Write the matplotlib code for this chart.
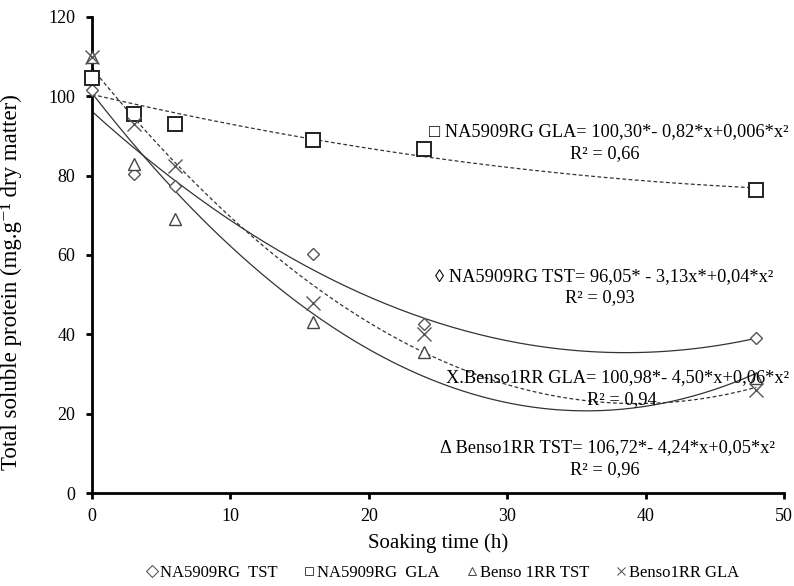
import numpy as np
import matplotlib
matplotlib.use("Agg")
import matplotlib.pyplot as plt
from matplotlib.lines import Line2D

plt.rcParams['font.family'] = ['Liberation Serif', 'DejaVu Serif']

# Soaking time (h)
hours = [0, 3, 6, 16, 24, 48]

# Total soluble protein (mg.g-1 dry matter)
na_tst = [101.5, 80.5, 77.5, 60.3, 42.5, 39.0]
na_gla = [104.5, 95.5, 93.0, 89.0, 86.8, 76.5]
benso_tst = [110.0, 83.0, 69.0, 43.0, 35.5, 29.0]
benso_gla = [110.0, 93.0, 82.5, 48.0, 40.0, 26.0]

legend_labels = ["NA5909RG  TST", "NA5909RG  GLA", "Benso 1RR TST", "Benso1RR GLA"]

equations = [
    ("\u25a1 NA5909RG GLA= 100,30*- 0,82*x+0,006*x\u00b2", "R\u00b2 = 0,66"),
    ("\u25ca NA5909RG TST= 96,05* - 3,13x*+0,04*x\u00b2", "R\u00b2 = 0,93"),
    ("X.Benso1RR GLA= 100,98*- 4,50*x+0,06*x\u00b2", "R\u00b2 = 0,94"),
    ("\u0394 Benso1RR TST= 106,72*- 4,24*x+0,05*x\u00b2", "R\u00b2 = 0,96"),
]

W, H = 794, 586
fig = plt.figure(figsize=(W / 100, H / 100), dpi=100)
ax = fig.add_axes([0.1159, 0.1587, 0.8715, 0.8123])

x = np.array(hours, dtype=float)
xs = np.linspace(0, 48, 200)

series = [
    (na_tst, 'D', 6.5, '#555555', '-'),
    (na_gla, 's', 10, '#222222', (0, (3, 2))),
    (benso_tst, '^', 9, '#444444', '-'),
    (benso_gla, 'x', 10, '#555555', (0, (3, 2))),
]

handles = []
for vals, mk, ms, col, ls in series:
    y = np.array(vals)
    coef = np.polyfit(x, y, 2)
    ax.plot(xs, np.polyval(coef, xs), color='#333333', lw=0.9, ls=ls, zorder=2)
    if mk == 'x':
        ax.plot(x, y, ls='none', marker=mk, ms=ms, mew=1.0, color=col,
                zorder=3, clip_on=False)
    else:
        ax.plot(x, y, ls='none', marker=mk, ms=ms, mew=1.4 if mk == 's' else 1.0,
                mfc='white', mec=col, zorder=3, clip_on=False)
    handles.append(Line2D([], [], ls='none', marker=mk, ms=6,
                          mfc='white' if mk != 'x' else col,
                          mec='#444444', color='#444444', mew=0.7))

ax.set_xlim(0, 50)
ax.set_ylim(0, 120)
ax.set_xticks(range(0, 51, 10))
ax.set_yticks(range(0, 121, 20))
for s in ['top', 'right']:
    ax.spines[s].set_visible(False)
for s in ['left', 'bottom']:
    ax.spines[s].set_linewidth(2.0)
ax.tick_params(axis='both', direction='out', length=4, width=2, labelsize=13)
ax.tick_params(axis='y', pad=8)
ax.tick_params(axis='x', pad=7)

ax.set_xlabel("Soaking time (h)", fontsize=15, labelpad=6)
ax.set_ylabel("Total soluble protein (mg.g\u207b\u00b9 dry matter)", fontsize=16.5)
ax.yaxis.set_label_coords(-0.101, 0.443)

# Regression equations: (right edge of equation, its y, centre of R², its y)
eq_pos = [(789, 132, 605, 154), (773, 277, 600, 298),
          (789, 378, 622, 400), (775, 448, 605, 470)]
for (eq, r2), (xr, y1, cx, y2) in zip(equations, eq_pos):
    fig.text(xr / W, 1 - y1 / H, eq, ha='right', va='center', fontsize=13.2)
    fig.text(cx / W, 1 - y2 / H, r2, ha='center', va='center', fontsize=13.2)

fig.legend(handles, legend_labels, loc='center', bbox_to_anchor=(443 / W, 1 - 573 / H),
           ncol=4, frameon=False, fontsize=12, handlelength=0.6, handletextpad=0.2,
           columnspacing=1.6)

fig.savefig("out.png", dpi=100)
